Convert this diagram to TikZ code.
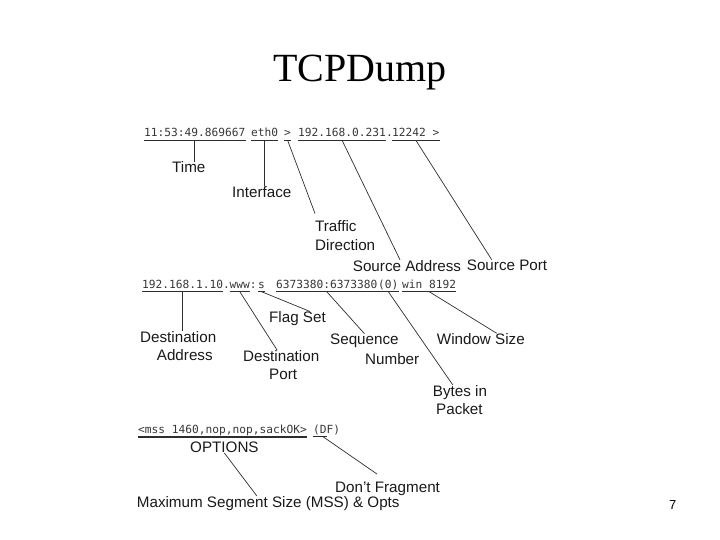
\documentclass[tikz,border=0pt]{standalone}
\usepackage{fontspec}
\setmainfont{Liberation Sans}
\newfontfamily\titlefont{Liberation Serif}
\newfontfamily\dumpfont{DejaVu Sans Mono}
\usepackage{xcolor}
\usepackage{tikz}
\usetikzlibrary{positioning}
\definecolor{dumpGray}{RGB}{55,55,55}
\definecolor{leadGray}{RGB}{45,45,45}
\definecolor{labelBlack}{RGB}{25,25,25}

\begin{document}
\begin{tikzpicture}[x=1pt, y=-1pt,
  field/.style={inner sep=0pt, anchor=base west, text depth=3.5pt,
    font=\dumpfont\fontsize{11.2}{12}\selectfont, text=dumpGray},
  lbl/.style={inner sep=0pt, anchor=base west, text=labelBlack,
    font=\fontsize{15.2}{17}\selectfont},
  uline/.style={draw=leadGray, line width=0.8pt},
  lead/.style={draw=leadGray, line width=0.7pt}]
\useasboundingbox (0,0) rectangle (720,540);
\node[inner sep=0pt, anchor=base, font=\titlefont\fontsize{40}{44}\selectfont]
  (title) at (360,81.7) {TCPDump};

% first line of the dump
\node[field] (time) at (144,136.5) {11:53:49.869667};
\node[field] (eth) at (251,136.5) {eth0};
\node[field] (dir) at (284,136.5) {>};
\node[field] (srcip) at (298,136.5) {192.168.0.231};
\node[field] (dot1) at (386,136.5) {.};
\node[field] (srcport) at (392,136.5) {12242 >};

% second line
\node[field] (dstip) at (142,288) {192.168.1.10};
\node[field] (dot2) at (223,288) {.};
\node[field] (www) at (229.5,288) {www};
\node[field] (colon) at (249.7,288) {:};
\node[field] (flag) at (258,288) {s};
\node[field] (seqno) at (276,288) {6373380:6373380};
\node[field] (bytes) at (378,288) {(0)};
\node[field] (win) at (402,288) {win 8192};

% third line
\node[field] (opts) at (138,433) {<mss 1460,nop,nop,sackOK>};
\node[field] (df) at (313,433) {(DF)};

\foreach \f in {time,eth,dir,srcip,srcport,dstip,www,flag,seqno,bytes,win}
  \draw[uline] (\f.south west) -- (\f.south east);
\draw[uline, line width=1.6pt] (opts.south west) -- (opts.south east);
\draw[uline] (df.south west) -- ([xshift=14pt]df.south west);

% labels
\node[lbl] (timelbl) at (172,173) {Time};
\node[lbl] (iflbl) at (232,197) {Interface};
\node[lbl] (traffic) at (315,231.7) {Traffic};
\node[lbl] (direction) at (315,250.5) {Direction};
\node[lbl] (srcaddr) at (352.7,271) {Source Address};
\node[lbl] (srcportlbl) at (466.7,270.5) {Source Port};
\node[lbl] (dstaddr1) at (140,342.5) {Destination};
\node[lbl] (dstaddr2) at (156.7,360.5) {Address};
\node[lbl] (dstport1) at (243,361.5) {Destination};
\node[lbl] (dstport2) at (269,379.5) {Port};
\node[lbl] (flagset) at (269,322.7) {Flag Set};
\node[lbl] (seq1) at (330,344.5) {Sequence};
\node[lbl] (seq2) at (365,364.5) {Number};
\node[lbl] (bytes1) at (432.7,396) {Bytes in};
\node[lbl] (bytes2) at (436,414.5) {Packet};
\node[lbl] (window) at (436.7,344.5) {Window Size};
\node[lbl] (options) at (190,452.7) {OPTIONS};
\node[lbl] (dontfrag) at (335,492.7) {Don\char"0027t Fragment};
\node[lbl] (mss) at (136.7,507) {Maximum Segment Size (MSS) \& Opts};
\node[inner sep=0pt, anchor=base west, font=\fontsize{13}{15}\selectfont]
  (page) at (669,509.3) {7};

% leaders
\draw[lead] (time.south) -- (timelbl.north -| time.south);
\draw[lead] (eth.south) -- (iflbl.north -| eth.south);
\draw[lead] (dir.south) -- ([yshift=7pt]traffic.north west);
\draw[lead] (srcip.south) -- ([xshift=-7pt]srcaddr.north);
\draw[lead] (srcport.south) -- ([xshift=25pt]srcportlbl.north west);
\draw[lead] (dstip.south) -- (dstaddr1.north -| dstip.south);
\draw[lead] (www.south) -- ([xshift=-4pt]dstport1.north);
\draw[lead] (flag.south) -- ([xshift=41pt]flagset.north west);
\draw[lead] (seqno.south) -- (seq1.north);
\draw[lead] (bytes.south) -- ([xshift=20pt]bytes1.north west);
\draw[lead] (win.south) -- ([xshift=60pt]window.north west);
\draw[lead] ([xshift=10pt]df.south west) -- ([xshift=42pt,yshift=8pt]dontfrag.north west);
\draw[lead] (options.south) -- ([xshift=120pt]mss.north west);
\end{tikzpicture}
\end{document}
